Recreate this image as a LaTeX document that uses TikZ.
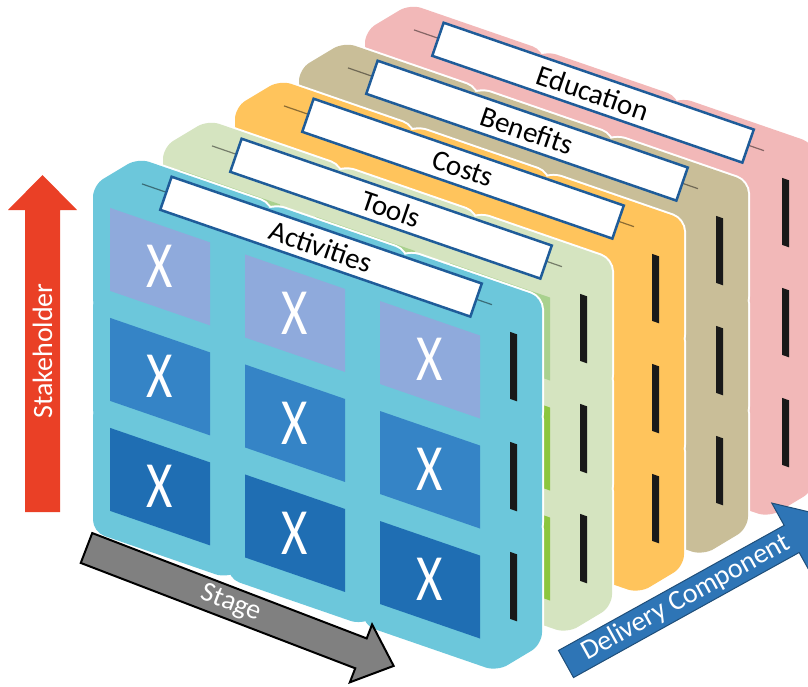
\documentclass[tikz,border=0pt]{standalone}
\usepackage{fontspec}
\setmainfont{Carlito}

\definecolor{actblue}{RGB}{108,199,219}
\definecolor{celltop}{RGB}{143,170,220}
\definecolor{cellmid}{RGB}{53,132,198}
\definecolor{celllow}{RGB}{31,110,179}
\definecolor{toolgreen}{RGB}{213,228,192}
\definecolor{toolcelltop}{RGB}{169,209,142}
\definecolor{toolcell}{RGB}{140,198,63}
\definecolor{costorange}{RGB}{255,196,92}
\definecolor{benefittan}{RGB}{201,190,152}
\definecolor{edupink}{RGB}{242,184,184}
\definecolor{lblborder}{RGB}{31,92,153}
\definecolor{stakered}{RGB}{234,64,38}
\definecolor{stagegray}{RGB}{128,128,128}
\definecolor{deliveryblue}{RGB}{46,117,182}
\definecolor{deliveryedge}{RGB}{31,78,121}

\tikzset{
  block/.style={fill=#1,rounded corners=12pt},
  layerlabel/.style={draw=lblborder,line width=2.5pt,fill=white,rotate=-19,
    minimum width=328pt,minimum height=35pt,inner sep=0pt,font=\fontsize{29}{31}\selectfont},
  cellx/.style={text=white,font=\fontsize{44}{44}\selectfont,xscale=1.15,yscale=1.5,inner sep=0pt},
  bar/.style={fill=black!90},
  arrowtext/.style={text=white,font=\fontsize{28}{30}\selectfont,inner sep=0pt}
}

\begin{document}
\begin{tikzpicture}[x=1pt,y=-1pt]
\useasboundingbox (0,0) rectangle (808,686);
\clip (0,0) rectangle (808,686);
% layers, back to front
\foreach \ox/\oy/\col/\ctop/\cmid/\clow/\txt [count=\k] in {
  365/31/edupink/edupink/edupink/edupink/Education,
  299/69/benefittan/benefittan/benefittan/benefittan/Benefits,
  235/107/costorange/costorange/costorange/costorange/Costs,
  163/147/toolgreen/toolcelltop/toolcell/toolcell/Tools,
  93/185/actblue/celltop/cellmid/celllow/Activities}
{
\begin{scope}[shift={(\ox,\oy)},yslant=-0.345]
  \foreach \i in {0,1,2} \foreach \j in {0,1,2}
    \filldraw[block=\col,draw=white,line width=4pt] (135*\i,110*\j) -- ++(45,-42.5) -- ++(134,0)
      -- ++(0,127) -- ++(-45,42.5) -- ++(-134,0) -- cycle;
  \foreach \i in {0,1,2} \foreach \j in {0,1,2}
    \fill[block=\col] (135*\i,110*\j) -- ++(45,-42.5) -- ++(134,0)
      -- ++(0,127) -- ++(-45,42.5) -- ++(-134,0) -- cycle;
  \foreach \j/\cc in {0/\ctop,1/\cmid,2/\clow} {
    \foreach \i in {0,1,2}
      \fill[fill=\cc] (135*\i+17,110*\j+17) -- ++(100,0) -- ++(0,83) -- ++(-100,0) -- cycle;
    \fill[bar] (417,110*\j+3) -- ++(7,0) -- ++(0,67) -- ++(-7,0) -- cycle;
  }
  \draw[draw=\col!55!black,line width=1.2pt] (49,-18) -- (399,-18);
  \node[layerlabel] (lbl\k) at (228,-17) {\txt};
\end{scope}
}
% marks on the front layer
\begin{scope}[shift={(93,185)},yslant=-0.345]
  \foreach \i in {0,1,2} \foreach \j in {0,1,2}
    \node[cellx] (x\i\j) at (135*\i+67,110*\j+58.5) {X};
\end{scope}

% axes
\fill[stakered] (25,512) -- (25,210) -- (8,210) -- (42.5,175) -- (77,210) -- (60,210) -- (60,512) -- cycle;
\node[arrowtext,rotate=90] (stake) at (42.5,351) {Stakeholder};

\begin{scope}[shift={(86.5,548)},rotate=-21]
  \filldraw[fill=stagegray,draw=black,line width=2pt] (0,-16) -- (294,-16) -- (294,-31) -- (329,0)
    -- (294,31) -- (294,16) -- (0,16) -- cycle;
  \node[arrowtext,rotate=-21] (stage) at (155,0) {Stage};
\end{scope}

\begin{scope}[shift={(566,664)},rotate=29]
  \filldraw[fill=deliveryblue,draw=deliveryedge,line width=1pt] (0,-15.5) -- (258,-15.5) -- (258,-41)
    -- (303,0) -- (258,41) -- (258,15.5) -- (0,15.5) -- cycle;
  \node[arrowtext,rotate=29] (delivery) at (137,0) {Delivery Component};
\end{scope}
\end{tikzpicture}
\end{document}
